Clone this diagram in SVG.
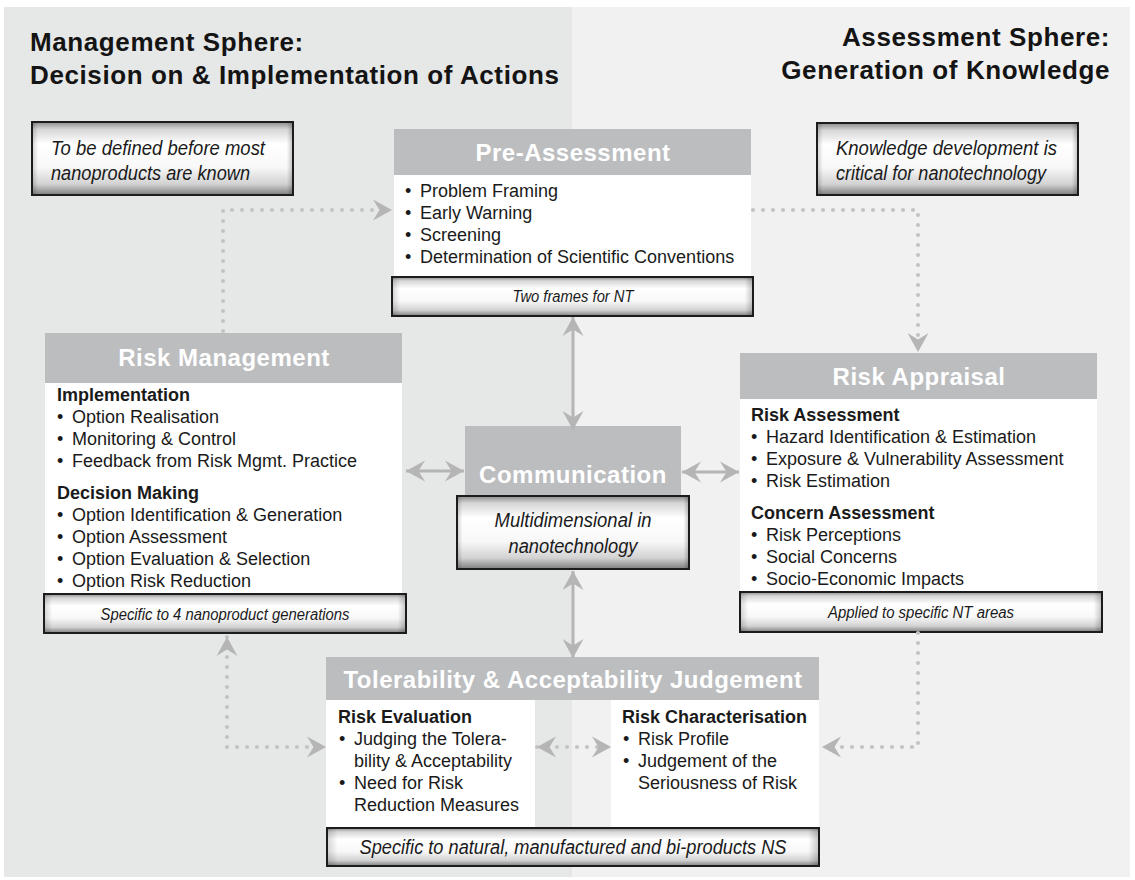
<svg xmlns="http://www.w3.org/2000/svg" width="1135" height="880" viewBox="0 0 1135 880">
<style>
.title{font-family:"Liberation Sans",Arial,Helvetica,sans-serif;font-weight:bold;font-size:26px;letter-spacing:0.6px;fill:#141414}
.hdr{font-family:"Liberation Sans",Arial,Helvetica,sans-serif;font-weight:bold;font-size:24px;letter-spacing:0.5px;fill:#ffffff;text-anchor:middle}
.hbox{fill:#bcbdbf}
.body{fill:#ffffff}
.t{font-family:"Liberation Sans",Arial,Helvetica,sans-serif;font-size:18px;fill:#1a1a1a}
.sh{font-weight:bold}
.it{font-family:"Liberation Sans",Arial,Helvetica,sans-serif;font-style:italic;fill:#1a1a1a}
.gbox{fill:url(#gv);stroke:#1c1c1c;stroke-width:2}
.gedge{fill:url(#gh);stroke:none}
.dot{fill:none;stroke:#c4c4c4;stroke-width:4.2;stroke-linecap:round;stroke-dasharray:0 10}
.sol{fill:none;stroke:#b5b5b5;stroke-width:3}
</style>
<defs>
<linearGradient id="gv" x1="0" y1="0" x2="0" y2="1">
<stop offset="0" stop-color="#8c8c8c"/>
<stop offset="0.1" stop-color="#d6d6d6"/>
<stop offset="0.3" stop-color="#ffffff"/>
<stop offset="0.62" stop-color="#f8f8f8"/>
<stop offset="0.85" stop-color="#d2d2d2"/>
<stop offset="1" stop-color="#7e7e7e"/>
</linearGradient>
<linearGradient id="gh" x1="0" y1="0" x2="1" y2="0">
<stop offset="0" stop-color="#000" stop-opacity="0.15"/>
<stop offset="0.02" stop-color="#000" stop-opacity="0"/>
<stop offset="0.98" stop-color="#000" stop-opacity="0"/>
<stop offset="1" stop-color="#000" stop-opacity="0.2"/>
</linearGradient>
<marker id="ah" viewBox="-21 -12 23 24" refX="0" refY="0" markerWidth="23" markerHeight="24" markerUnits="userSpaceOnUse" orient="auto-start-reverse">
<path d="M0,0 L-19,-10.5 L-12.5,0 L-19,10.5 Z" fill="#b5b5b5"/>
</marker>
</defs>

<g id="background">
<rect x="0" y="0" width="1135" height="880" fill="#ffffff"/>
<rect x="4" y="7" width="568" height="870" fill="#e6e7e7"/>
<rect x="572" y="7" width="558" height="870" fill="#f1f1f1"/>
</g>

<g id="titles">
<text class="title" x="30" y="51">Management Sphere:</text>
<text class="title" x="30" y="84">Decision on &amp; Implementation of Actions</text>
<text class="title" x="1110" y="46" text-anchor="end">Assessment Sphere:</text>
<text class="title" x="1110" y="79" text-anchor="end">Generation of Knowledge</text>
</g>

<g id="note-management">
<rect class="gbox" x="32" y="122" width="261" height="73"/>
<rect class="gedge" x="33" y="123" width="259" height="71"/>
<text class="it" font-size="20" x="51" y="155" textLength="214" lengthAdjust="spacingAndGlyphs">To be defined before most</text>
<text class="it" font-size="20" x="51" y="180" textLength="199" lengthAdjust="spacingAndGlyphs">nanoproducts are known</text>
</g>

<g id="note-assessment">
<rect class="gbox" x="817" y="123" width="261" height="72"/>
<rect class="gedge" x="818" y="124" width="259" height="70"/>
<text class="it" font-size="20" x="836" y="155" textLength="221" lengthAdjust="spacingAndGlyphs">Knowledge development is</text>
<text class="it" font-size="20" x="836" y="180" textLength="210" lengthAdjust="spacingAndGlyphs">critical for nanotechnology</text>
</g>

<g id="pre-assessment">
<rect class="hbox" x="394" y="129" width="357" height="46"/>
<rect class="body" x="394" y="175" width="357" height="102"/>
<text class="hdr" x="573" y="161">Pre-Assessment</text>
<text class="t" x="405" y="197">•</text><text class="t" x="420" y="197">Problem Framing</text>
<text class="t" x="405" y="219">•</text><text class="t" x="420" y="219">Early Warning</text>
<text class="t" x="405" y="241">•</text><text class="t" x="420" y="241">Screening</text>
<text class="t" x="405" y="263">•</text><text class="t" x="420" y="263">Determination of Scientific Conventions</text>
<rect class="gbox" x="392" y="277" width="361" height="39"/>
<rect class="gedge" x="393" y="278" width="359" height="37"/>
<text class="it" font-size="16" x="573" y="302" text-anchor="middle" textLength="121" lengthAdjust="spacingAndGlyphs">Two frames for NT</text>
</g>

<g id="risk-management">
<rect class="hbox" x="45" y="333" width="357" height="50"/>
<rect class="body" x="45" y="383" width="357" height="211"/>
<text class="hdr" x="224" y="366">Risk Management</text>
<text class="t sh" x="57" y="401">Implementation</text>
<text class="t" x="57" y="423">•</text><text class="t" x="72" y="423">Option Realisation</text>
<text class="t" x="57" y="445">•</text><text class="t" x="72" y="445">Monitoring &amp; Control</text>
<text class="t" x="57" y="467">•</text><text class="t" x="72" y="467">Feedback from Risk Mgmt. Practice</text>
<text class="t sh" x="57" y="499">Decision Making</text>
<text class="t" x="57" y="521">•</text><text class="t" x="72" y="521">Option Identification &amp; Generation</text>
<text class="t" x="57" y="543">•</text><text class="t" x="72" y="543">Option Assessment</text>
<text class="t" x="57" y="565">•</text><text class="t" x="72" y="565">Option Evaluation &amp; Selection</text>
<text class="t" x="57" y="587">•</text><text class="t" x="72" y="587">Option Risk Reduction</text>
<rect class="gbox" x="44" y="594" width="362" height="39"/>
<rect class="gedge" x="45" y="595" width="360" height="37"/>
<text class="it" font-size="16" x="225" y="620" text-anchor="middle" textLength="249" lengthAdjust="spacingAndGlyphs">Specific to 4 nanoproduct generations</text>
</g>

<g id="risk-appraisal">
<rect class="hbox" x="740" y="353" width="357" height="46"/>
<rect class="body" x="740" y="399" width="357" height="193"/>
<text class="hdr" x="919" y="385">Risk Appraisal</text>
<text class="t sh" x="751" y="421">Risk Assessment</text>
<text class="t" x="751" y="443">•</text><text class="t" x="766" y="443">Hazard Identification &amp; Estimation</text>
<text class="t" x="751" y="465">•</text><text class="t" x="766" y="465">Exposure &amp; Vulnerability Assessment</text>
<text class="t" x="751" y="487">•</text><text class="t" x="766" y="487">Risk Estimation</text>
<text class="t sh" x="751" y="519">Concern Assessment</text>
<text class="t" x="751" y="541">•</text><text class="t" x="766" y="541">Risk Perceptions</text>
<text class="t" x="751" y="563">•</text><text class="t" x="766" y="563">Social Concerns</text>
<text class="t" x="751" y="585">•</text><text class="t" x="766" y="585">Socio-Economic Impacts</text>
<rect class="gbox" x="740" y="592" width="362" height="40"/>
<rect class="gedge" x="741" y="593" width="360" height="38"/>
<text class="it" font-size="16" x="921" y="618" text-anchor="middle" textLength="186" lengthAdjust="spacingAndGlyphs">Applied to specific NT areas</text>
</g>

<g id="communication">
<rect class="hbox" x="465" y="426" width="216" height="72"/>
<text class="hdr" x="573" y="483">Communication</text>
<rect class="gbox" x="457" y="496" width="232" height="73"/>
<rect class="gedge" x="458" y="497" width="230" height="71"/>
<text class="it" font-size="20" x="573" y="527" text-anchor="middle" textLength="157" lengthAdjust="spacingAndGlyphs">Multidimensional in</text>
<text class="it" font-size="20" x="573" y="553" text-anchor="middle" textLength="129" lengthAdjust="spacingAndGlyphs">nanotechnology</text>
</g>

<g id="tolerability-acceptability">
<rect class="hbox" x="326" y="657" width="493" height="43"/>
<rect class="body" x="326" y="700" width="209" height="128"/>
<rect class="body" x="611" y="700" width="208" height="128"/>
<text class="hdr" x="573" y="688">Tolerability &amp; Acceptability Judgement</text>
<text class="t sh" x="338" y="723">Risk Evaluation</text>
<text class="t" x="339" y="745">•</text><text class="t" x="354" y="745">Judging the Tolera-</text>
<text class="t" x="354" y="767">bility &amp; Acceptability</text>
<text class="t" x="339" y="789">•</text><text class="t" x="354" y="789">Need for Risk</text>
<text class="t" x="354" y="811">Reduction Measures</text>
<text class="t sh" x="622" y="723">Risk Characterisation</text>
<text class="t" x="623" y="745">•</text><text class="t" x="638" y="745">Risk Profile</text>
<text class="t" x="623" y="767">•</text><text class="t" x="638" y="767">Judgement of the</text>
<text class="t" x="638" y="789">Seriousness of Risk</text>
<rect class="gbox" x="327" y="828" width="492" height="38"/>
<rect class="gedge" x="328" y="829" width="490" height="36"/>
<text class="it" font-size="20" x="573" y="854" text-anchor="middle" textLength="427" lengthAdjust="spacingAndGlyphs">Specific to natural, manufactured and bi-products NS</text>
</g>

<g id="connectors">
<path class="dot" d="M223,331 V210 H392" marker-end="url(#ah)"/>
<path class="dot" d="M753,210 H918 V352" marker-end="url(#ah)"/>
<path class="dot" d="M918,633 V747 H822" marker-end="url(#ah)"/>
<path class="dot" d="M227,637 V747 H326" marker-start="url(#ah)" marker-end="url(#ah)"/>
<path class="dot" d="M537,747 H611" marker-start="url(#ah)" marker-end="url(#ah)"/>
<path class="sol" d="M573,317 V430" marker-start="url(#ah)" marker-end="url(#ah)"/>
<path class="sol" d="M406,471 H464" marker-start="url(#ah)" marker-end="url(#ah)"/>
<path class="sol" d="M682,472 H739" marker-start="url(#ah)" marker-end="url(#ah)"/>
<path class="sol" d="M573,571 V658" marker-start="url(#ah)" marker-end="url(#ah)"/>
</g>
</svg>
